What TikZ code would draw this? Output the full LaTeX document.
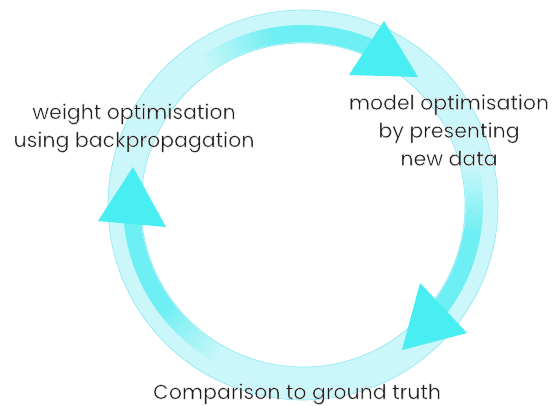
\documentclass[tikz,border=0pt]{standalone}
\usepackage{fontspec}
\setmainfont{Poppins}
\definecolor{ltc}{HTML}{CBF7FA}
\definecolor{dkc}{HTML}{6EEFF3}
\definecolor{edc}{HTML}{8AE8F0}
\definecolor{arc}{HTML}{48EEF2}
\definecolor{txc}{HTML}{1E1E1E}
\newcommand{\halo}{\special{pdf:literal direct 2 Tr 1 1 1 RG 0.35 w}}
\newcommand{\nohalo}{\special{pdf:literal direct 0 Tr}}
\tikzset{
  lbl/.style={text=txc, font=\fontsize{20.5}{28}\selectfont, align=center, inner sep=0pt},
  arrowtri/.style={fill=arc, draw=none},
}
\newcommand{\tail}[2]{% start angle, end angle (math, clockwise)
  \foreach \k in {0,...,39}{
    \pgfmathsetmacro{\aa}{#1-(#1-#2)*\k/40}
    \pgfmathsetmacro{\bb}{#1-(#1-#2)*(\k+1)/40-0.5}
    \pgfmathsetmacro{\pp}{min(100,\k*100/16)}
    \fill[dkc!\pp!ltc] (\aa:163) arc[start angle=\aa, end angle=\bb, radius=163]
      -- (\bb:180) arc[start angle=\bb, end angle=\aa, radius=180] -- cycle;
  }}
\begin{document}
\begin{tikzpicture}[x=1pt,y=-1pt]
\useasboundingbox (0,0) rectangle (556,406);
\begin{scope}[shift={(303pt,-205pt)},x=1pt,y=1pt]
  \fill[ltc, even odd rule] (0,0) circle (195) (0,0) circle (162);
  \tail{126}{62}
  \tail{14}{-43}
  \tail{242}{180}
  \draw[edc, line width=0.6pt] (0,0) circle (195);
  \draw[edc, line width=0.6pt] (0,0) circle (162);
\end{scope}
\fill[arrowtri] (384,21) -- (418,77) -- (349,75) -- cycle;
\fill[arrowtri] (133,167) -- (166,227) -- (98,221) -- cycle;
\fill[arrowtri] (420,283) -- (467,333) -- (402,350) -- cycle;
\node[lbl] (w) at (134,128) {\halo weight optimisation\\using backpropagation\nohalo};
\node[lbl] (m) at (449,130) {\halo model optimisation\\by presenting\\new data\nohalo};
\node[lbl] (c) at (297,394) {\halo Comparison to ground truth\nohalo};
\end{tikzpicture}
\end{document}
